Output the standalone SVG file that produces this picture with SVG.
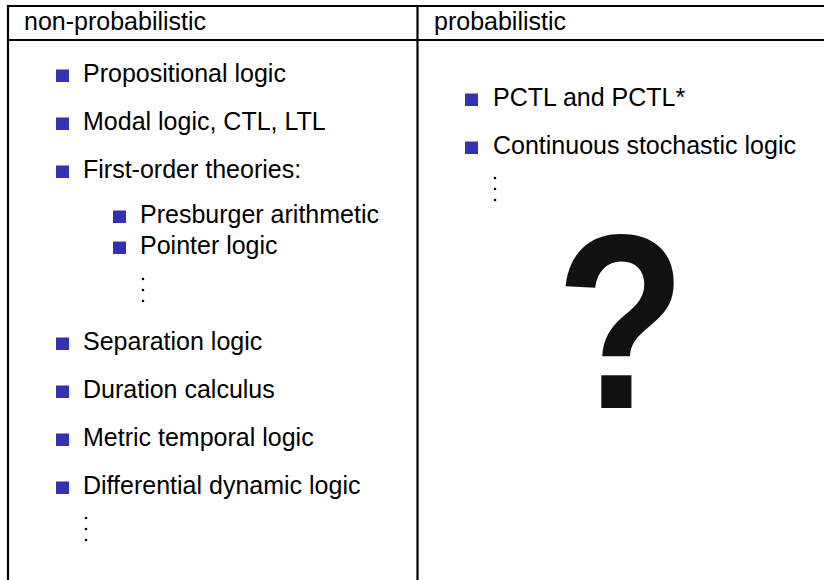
<svg xmlns="http://www.w3.org/2000/svg" width="824" height="580" viewBox="0 0 824 580">
<style>
.t{font-family:"Liberation Sans",Arial,sans-serif;font-size:25px;fill:#000}
.b{fill:#3333b2}
.d{fill:#000}
.ln{stroke:#000;stroke-width:2.2;fill:none}
</style>
<rect width="824" height="580" fill="#fff"/>
<g id="table">
<line class="ln" x1="7" y1="6" x2="824" y2="6"/>
<line class="ln" x1="7" y1="40" x2="824" y2="40"/>
<line class="ln" x1="8" y1="5" x2="8" y2="580"/>
<line class="ln" x1="417.5" y1="5" x2="417.5" y2="580" stroke-width="2.6"/>
</g>
<g id="header-left"><text class="t" x="24" y="30">non-probabilistic</text></g>
<g id="header-right"><text class="t" x="434" y="30">probabilistic</text></g>
<g id="left-list">
<rect class="b" x="56" y="69.5" width="13" height="12.5"/><text class="t" x="83" y="82">Propositional logic</text>
<rect class="b" x="56" y="117.5" width="13" height="12.5"/><text class="t" x="83" y="130">Modal logic, CTL, LTL</text>
<rect class="b" x="56" y="165.5" width="13" height="12.5"/><text class="t" x="83" y="178">First-order theories:</text>
<rect class="b" x="113" y="210.5" width="13" height="12.5"/><text class="t" x="140" y="223">Presburger arithmetic</text>
<rect class="b" x="113" y="241.5" width="13" height="12.5"/><text class="t" x="140" y="254">Pointer logic</text>
<circle class="d" cx="143" cy="279" r="1.3"/><circle class="d" cx="143" cy="290" r="1.3"/><circle class="d" cx="143" cy="301" r="1.3"/>
<rect class="b" x="56" y="337.5" width="13" height="12.5"/><text class="t" x="83" y="350">Separation logic</text>
<rect class="b" x="56" y="385.5" width="13" height="12.5"/><text class="t" x="83" y="398">Duration calculus</text>
<rect class="b" x="56" y="433.5" width="13" height="12.5"/><text class="t" x="83" y="446">Metric temporal logic</text>
<rect class="b" x="56" y="481.5" width="13" height="12.5"/><text class="t" x="83" y="494">Differential dynamic logic</text>
<circle class="d" cx="86" cy="518" r="1.3"/><circle class="d" cx="86" cy="529" r="1.3"/><circle class="d" cx="86" cy="540" r="1.3"/>
</g>
<g id="right-list">
<rect class="b" x="465" y="93.5" width="13" height="12.5"/><text class="t" x="493" y="106">PCTL and PCTL*</text>
<rect class="b" x="465" y="141.5" width="13" height="12.5"/><text class="t" x="493" y="154">Continuous stochastic logic</text>
<circle class="d" cx="495" cy="178" r="1.3"/><circle class="d" cx="495" cy="189" r="1.3"/><circle class="d" cx="495" cy="200" r="1.3"/>
</g>
<g id="question-mark" transform="translate(621,408) scale(0.9,1.05)"><text x="0" y="0" text-anchor="middle" font-family="Liberation Sans,Arial,sans-serif" font-weight="bold" font-size="237" fill="#111">?</text></g>
</svg>
